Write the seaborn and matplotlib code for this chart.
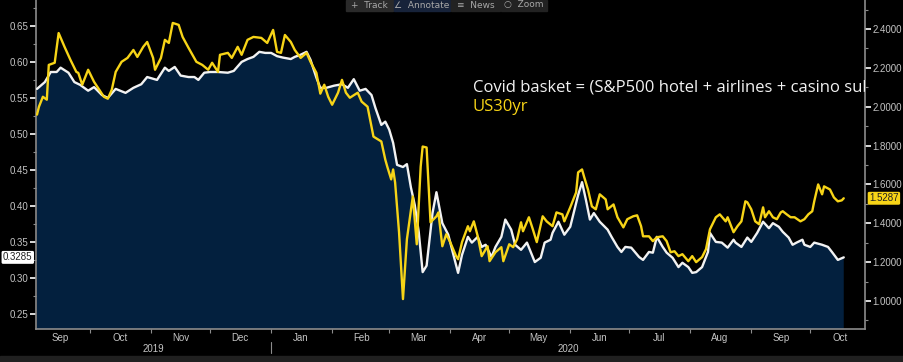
import pandas as pd
import seaborn as sns
import matplotlib.pyplot as plt
import matplotlib.dates as mdates
import matplotlib.ticker as mtick
import matplotlib.transforms as mtrans
from matplotlib.patches import Rectangle

START = pd.Timestamp("2019-09-04")

# Covid basket ratio (left axis) - days after START and value
basket_days = [0, 4, 7, 10, 12, 16, 19, 22, 26, 29, 33, 36, 40, 45, 49, 53, 56, 61, 65, 67,
               70, 73, 77, 80, 82, 85, 88, 92, 97, 100, 104, 107, 110, 113, 116, 119, 122, 125, 129, 131,
               134, 137, 139, 141, 142, 144, 147, 151, 155, 158, 161, 164, 167, 170, 172, 175, 177, 179, 181, 183,
               186, 188, 190, 192, 194, 196, 198, 201, 203, 206, 209, 211, 214, 216, 219, 221, 224, 226, 228, 231,
               233, 236, 238, 241, 243, 246, 249, 253, 256, 258, 261, 262, 265, 268, 271, 274, 275, 277, 279, 281,
               283, 286, 290, 292, 295, 297, 299, 302, 306, 308, 311, 313, 315, 318, 320, 323, 326, 328, 331, 333,
               335, 338, 341, 342, 345, 348, 351, 354, 355, 358, 361, 363, 366, 369, 372, 374, 377, 379, 382, 384,
               386, 389, 390, 393, 395, 399, 402, 404, 407, 410]
basket_vals = [0.5625, 0.572, 0.586, 0.586, 0.592, 0.585, 0.572, 0.568, 0.560, 0.565, 0.554, 0.550, 0.5625, 0.557,
               0.564, 0.569, 0.579, 0.575, 0.592, 0.5875,
               0.593, 0.581, 0.579, 0.579, 0.575, 0.585, 0.586, 0.586, 0.585, 0.5875, 0.600, 0.604, 0.607, 0.614,
               0.6125, 0.6125, 0.608, 0.606, 0.604, 0.607,
               0.610, 0.614, 0.603, 0.586, 0.578, 0.564, 0.564, 0.567, 0.569, 0.564, 0.576, 0.560, 0.5625, 0.554,
               0.536, 0.5125, 0.517, 0.506, 0.4875, 0.457,
               0.454, 0.458, 0.426, 0.401, 0.364, 0.308, 0.317, 0.390, 0.419, 0.376, 0.360, 0.339, 0.307, 0.332,
               0.357, 0.349, 0.357, 0.343, 0.346, 0.329,
               0.343, 0.357, 0.381, 0.367, 0.346, 0.339, 0.349, 0.322, 0.328, 0.349, 0.353, 0.3625, 0.378, 0.360,
               0.371, 0.404, 0.415, 0.433, 0.408, 0.381,
               0.390, 0.378, 0.367, 0.357, 0.343, 0.336, 0.343, 0.342, 0.329, 0.325, 0.336, 0.335, 0.357, 0.343,
               0.335, 0.328, 0.315, 0.321, 0.315, 0.307,
               0.308, 0.315, 0.336, 0.3625, 0.350, 0.349, 0.342, 0.353, 0.349, 0.343, 0.356, 0.350, 0.3625, 0.378,
               0.369, 0.376, 0.371, 0.364, 0.356, 0.346,
               0.349, 0.353, 0.346, 0.343, 0.349, 0.346, 0.343, 0.336, 0.325, 0.3285]

# US30yr yield (right axis)
yield_days = [0, 1, 3, 5, 6, 9, 11, 14, 17, 20, 21, 23, 26, 29, 31, 34, 36, 38, 40, 43,
              46, 49, 51, 54, 56, 59, 60, 63, 65, 67, 69, 72, 74, 77, 81, 84, 87, 89, 92, 93,
              97, 99, 102, 104, 107, 110, 114, 117, 120, 122, 124, 126, 129, 131, 134, 137, 139, 142, 144, 146,
              148, 150, 153, 155, 157, 159, 163, 165, 168, 171, 175, 177, 178, 180, 181, 182, 184, 186, 188, 191,
              193, 195, 196, 198, 200, 203, 204, 206, 208, 210, 213, 214, 216, 219, 220, 222, 224, 226, 229, 230,
              233, 236, 237, 240, 242, 244, 246, 247, 250, 252, 254, 257, 259, 262, 264, 267, 268, 271, 274, 275,
              277, 278, 280, 282, 284, 286, 289, 290, 293, 295, 298, 300, 303, 305, 307, 308, 311, 313, 315, 318,
              320, 322, 324, 326, 328, 331, 333, 335, 338, 340, 342, 345, 347, 350, 351, 354, 356, 358, 360, 361,
              363, 365, 367, 369, 370, 372, 374, 376, 378, 379, 381, 383, 385, 388, 390, 392, 394, 395, 397, 399,
              400, 403, 405, 407, 409, 410]
yield_vals = [1.959, 2.000, 2.051, 2.036, 2.215, 2.226, 2.379, 2.308, 2.241, 2.179, 2.174, 2.113, 2.190, 2.128,
              2.097, 2.051, 2.041, 2.087, 2.179, 2.231,
              2.251, 2.292, 2.256, 2.308, 2.333, 2.251, 2.190, 2.251, 2.344, 2.328, 2.431, 2.421, 2.359, 2.303,
              2.231, 2.215, 2.190, 2.226, 2.179, 2.267,
              2.277, 2.251, 2.308, 2.267, 2.344, 2.359, 2.354, 2.328, 2.395, 2.282, 2.277, 2.369, 2.333, 2.292,
              2.251, 2.277, 2.231, 2.174, 2.067, 2.113,
              2.051, 2.010, 2.072, 2.138, 2.072, 2.046, 2.072, 2.026, 2.000, 1.846, 1.821, 1.728, 1.692, 1.626,
              1.677, 1.610, 1.354, 1.010, 1.318, 1.538,
              1.292, 1.692, 1.795, 1.790, 1.405, 1.436, 1.456, 1.282, 1.344, 1.303, 1.231, 1.215, 1.303, 1.385,
              1.359, 1.410, 1.333, 1.231, 1.282, 1.205,
              1.251, 1.277, 1.205, 1.292, 1.277, 1.318, 1.405, 1.359, 1.431, 1.369, 1.303, 1.436, 1.410, 1.385,
              1.456, 1.446, 1.410, 1.482, 1.559, 1.662,
              1.677, 1.641, 1.574, 1.487, 1.472, 1.549, 1.523, 1.472, 1.497, 1.431, 1.379, 1.421, 1.436, 1.441,
              1.385, 1.333, 1.333, 1.308, 1.328, 1.333,
              1.308, 1.251, 1.256, 1.231, 1.241, 1.205, 1.231, 1.200, 1.226, 1.267, 1.369, 1.431, 1.446, 1.410,
              1.431, 1.354, 1.385, 1.410, 1.513, 1.508,
              1.472, 1.410, 1.395, 1.482, 1.431, 1.462, 1.431, 1.421, 1.456, 1.462, 1.446, 1.431, 1.431, 1.410,
              1.421, 1.446, 1.462, 1.513, 1.600, 1.549,
              1.590, 1.574, 1.533, 1.513, 1.518, 1.5287]

basket_label = "Covid basket = (S&P500 hotel + airlines + casino sub-industries) / US30yr"
yield_label = "US30yr"
year_labels = ["2019", "2020"]
toolbar = ["+  Track", "\u2220  Annotate", "\u2261  News", "\u25cb  Zoom"]

WHITE = "#f2f2f2"
YELLOW = "#f7d417"
NAVY = "#03203e"
GREY = "#c4c4c4"
SPINE = "#8c8c8c"

sns.set_style("dark")
plt.rcParams["font.family"] = ["Liberation Sans", "DejaVu Sans"]

basket = pd.DataFrame({"date": START + pd.to_timedelta(basket_days, unit="D"), "value": basket_vals})
yld = pd.DataFrame({"date": START + pd.to_timedelta(yield_days, unit="D"), "value": yield_vals})

fig = plt.figure(figsize=(9.04, 3.62), dpi=100, facecolor="black")
ax = fig.add_axes([36 / 904, 33 / 362, 829 / 904, 329 / 362])
ax.set_facecolor("black")
ax2 = ax.twinx()

ax.fill_between(basket["date"], basket["value"], 0, color=NAVY, lw=0, zorder=1)
sns.lineplot(data=basket, x="date", y="value", ax=ax, color=WHITE, lw=1.7, zorder=3)
sns.lineplot(data=yld, x="date", y="value", ax=ax2, color=YELLOW, lw=1.7, zorder=3)

ax.set_xlim(START - pd.Timedelta(days=0.5), START + pd.Timedelta(days=420.8))
ax.set_ylim(0.229, 0.686)
ax2.set_ylim(0.856, 2.549)
ax.set_xlabel("")
ax.set_ylabel("")
ax2.set_ylabel("")
ax.grid(False)
ax2.grid(False)

ax.yaxis.set_major_locator(mtick.MultipleLocator(0.05))
ax.yaxis.set_minor_locator(mtick.MultipleLocator(0.025))
ax.yaxis.set_major_formatter(mtick.FormatStrFormatter("%.2f"))
ax2.yaxis.set_major_locator(mtick.MultipleLocator(0.2))
ax2.yaxis.set_minor_locator(mtick.MultipleLocator(0.1))
ax2.yaxis.set_major_formatter(mtick.FormatStrFormatter("%.4f"))

ax.xaxis.set_major_locator(mdates.MonthLocator(bymonthday=16))
ax.xaxis.set_major_formatter(mdates.DateFormatter("%b"))
ax.xaxis.set_minor_locator(mdates.MonthLocator())

for a in (ax, ax2):
    for s in a.spines.values():
        s.set_visible(False)
ax.spines["left"].set_visible(True)
ax.spines["bottom"].set_visible(True)
ax2.spines["right"].set_visible(True)
for s in (ax.spines["left"], ax.spines["bottom"], ax2.spines["right"]):
    s.set_color(SPINE)
    s.set_linewidth(1.2)

ax.tick_params(axis="y", which="major", direction="out", length=4, width=1.2, color="white",
               labelcolor=GREY, labelsize=7, pad=1.5, left=True)
ax.tick_params(axis="y", which="minor", direction="out", length=2, width=0.8, color=SPINE, left=True)
ax2.tick_params(axis="y", which="major", direction="out", length=4, width=1.2, color="white",
                labelcolor=GREY, labelsize=7, pad=1.5, right=True)
ax2.tick_params(axis="y", which="minor", direction="out", length=2, width=0.8, color=SPINE, right=True)
ax.tick_params(axis="x", which="major", length=0, labelcolor=GREY, labelsize=7, pad=3, bottom=True)
ax.tick_params(axis="x", which="minor", direction="out", length=3, width=0.8, color=SPINE, bottom=True)

# year labels under the months, split at Jan 1
blend = mtrans.blended_transform_factory(ax.transData, ax.transAxes)
x0, x1 = ax.get_xlim()
jan = mdates.date2num(pd.Timestamp("2020-01-01"))
for lab, xc in zip(year_labels, [(x0 + jan) / 2, (jan + x1) / 2]):
    ax.text(xc, -0.06, lab, transform=blend, ha="center", va="center", color=GREY, fontsize=7, clip_on=False)
ax.plot([jan, jan], [-0.038, -0.072], transform=blend, color=SPINE, lw=0.8, clip_on=False)

# last value tags
ax.annotate(f"{basket_vals[-1]:.4f}", xy=(0, basket_vals[-1]), xycoords=("axes fraction", "data"),
            xytext=(-2.5, 0), textcoords="offset points", ha="right", va="center", fontsize=7, color="#222222",
            bbox=dict(boxstyle="round,pad=0.15", fc="white", ec="none"), annotation_clip=False)
ax2.annotate(f"{yield_vals[-1]:.4f}", xy=(1, yield_vals[-1]), xycoords=("axes fraction", "data"),
             xytext=(3, 0), textcoords="offset points", ha="left", va="center", fontsize=7, color="#222222",
             bbox=dict(boxstyle="round,pad=0.15", fc=YELLOW, ec="none"), annotation_clip=False)

# legend text (clipped by the right axis, as in the terminal screenshot)
ax2.text((473 - 36) / 829, 1 - 92 / 329, basket_label, transform=ax2.transAxes, color=WHITE,
         fontsize=12, family=["Open Sans", "DejaVu Sans"], va="baseline", ha="left", clip_on=True)
ax2.text((473 - 36) / 829, 1 - 111 / 329, yield_label, transform=ax2.transAxes, color=YELLOW,
         fontsize=12, family=["Open Sans", "DejaVu Sans"], va="baseline", ha="left", clip_on=True)

# toolbar at the top
btn = [(346, 393, "#2a2a2a"), (394, 450, "#17233a"), (451, 500, "#222222"), (501, 547, "#222222")]
for (l, r, c), t in zip(btn, toolbar):
    fig.patches.append(Rectangle((l / 904, 1 - 11 / 362), (r - l) / 904, 11 / 362,
                                 transform=fig.transFigure, color=c, zorder=5))
    fig.text((l + r) / 2 / 904, 1 - 5 / 362, t, ha="center", va="center", color="#a8a8a8",
             fontsize=6.5, family=["DejaVu Sans"], zorder=6)

# bottom status strip
fig.patches.append(Rectangle((0, 0), 1, 6 / 362, transform=fig.transFigure, color="#202020", zorder=0))

fig.savefig("out.png", dpi=100, facecolor="black")
